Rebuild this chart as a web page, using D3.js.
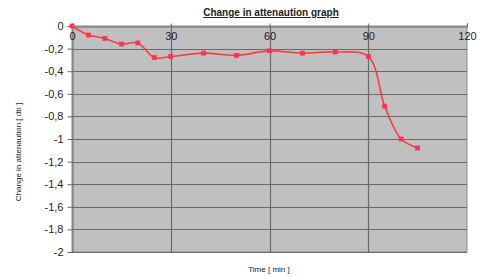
<!DOCTYPE html>
<html>
<head>
<meta charset="utf-8">
<script src="https://cdn.jsdelivr.net/npm/d3@7"></script>
<style>
  body { margin: 0; background: #fff; }
  svg { display: block; font-family: Arial, "Liberation Sans", sans-serif; }
</style>
</head>
<body>
<div id="chart"></div>
<script>
// data
var times  = [0, 5, 10, 15, 20, 25, 30, 40, 50, 60, 70, 80, 90, 95, 100, 105];
var values = [0, -0.08, -0.11, -0.16, -0.15, -0.28, -0.27, -0.24, -0.26, -0.22, -0.24, -0.23, -0.27, -0.71, -1.0, -1.08];
var xTicks = [0, 30, 60, 90, 120];
var yTicks = [0, -0.2, -0.4, -0.6, -0.8, -1, -1.2, -1.4, -1.6, -1.8, -2];

var W = 493, H = 276;
var pLeft = 72, pRight = 467, pTop = 26, pBottom = 252;

var svg = d3.select('#chart').append('svg').attr('width', W).attr('height', H);

var x = d3.scaleLinear().domain([0, 120]).range([pLeft, pRight]);
var y = d3.scaleLinear().domain([0, -2]).range([pTop, pBottom]);

// plot background
svg.append('rect')
    .attr('x', pLeft).attr('y', pTop)
    .attr('width', pRight - pLeft).attr('height', pBottom - pTop)
    .attr('fill', '#c0c0c0').attr('stroke', '#8a8a8a').attr('stroke-width', 1);

// horizontal grid
svg.append('g').selectAll('line').data(yTicks.slice(1, -1)).join('line')
    .attr('x1', pLeft).attr('x2', pRight)
    .attr('y1', function(d){ return Math.round(y(d)) + 0.5; })
    .attr('y2', function(d){ return Math.round(y(d)) + 0.5; })
    .attr('stroke', '#6a6a6a').attr('stroke-width', 1.2);

// vertical grid
svg.append('g').selectAll('line').data(xTicks.slice(1, -1)).join('line')
    .attr('x1', function(d){ return Math.round(x(d)) + 0.5; })
    .attr('x2', function(d){ return Math.round(x(d)) + 0.5; })
    .attr('y1', pTop).attr('y2', pBottom)
    .attr('stroke', '#6a6a6a').attr('stroke-width', 1.2);

// bottom line
svg.append('line').attr('x1', pLeft).attr('x2', pRight)
    .attr('y1', pBottom + 0.5).attr('y2', pBottom + 0.5)
    .attr('stroke', '#6a6a6a').attr('stroke-width', 1.2);

// y axis
var yAxis = d3.axisLeft(y).tickValues(yTicks).tickSize(5).tickPadding(4)
    .tickFormat(function(d){ return d3.format('~g')(d).replace('.', ',').replace('−', '-'); });
var ya = svg.append('g').attr('transform', 'translate(' + (pLeft + 0.5) + ',0)').call(yAxis);
ya.select('.domain').attr('stroke', '#6a6a6a');
ya.selectAll('.tick line').attr('stroke', '#6a6a6a');
ya.selectAll('text').attr('font-size', 11).attr('fill', '#222').attr('font-family', 'Arial, "Liberation Sans", sans-serif');

// x axis along the zero line, labels inside the plot
var xAxis = d3.axisTop(x).tickValues(xTicks).tickSize(3).tickPadding(-16).tickFormat(d3.format('d'));
var xa = svg.append('g').attr('transform', 'translate(0,' + (pTop + 0.5) + ')').call(xAxis);
xa.select('.domain').attr('stroke', '#6a6a6a');
xa.selectAll('.tick line').attr('stroke', '#6a6a6a');
xa.selectAll('text').attr('font-size', 11).attr('fill', '#222').attr('font-family', 'Arial, "Liberation Sans", sans-serif');

// smoothed line
var pts = times.map(function(t, i){ return [t, values[i]]; });
var line = d3.line()
    .x(function(d){ return x(d[0]); })
    .y(function(d){ return y(d[1]); })
    .curve(d3.curveCatmullRom.alpha(0.5));

svg.append('path').datum(pts)
    .attr('d', line)
    .attr('fill', 'none').attr('stroke', '#ff3a3a').attr('stroke-width', 1.6);

svg.append('g').selectAll('rect').data(pts).join('rect')
    .attr('x', function(d){ return x(d[0]) - 2; })
    .attr('y', function(d){ return y(d[1]) - 2; })
    .attr('width', 4).attr('height', 4)
    .attr('fill', '#ff2a7a').attr('stroke', '#ff3a3a').attr('stroke-width', 0.8);

// title
svg.append('text').attr('x', 271).attr('y', 16).attr('text-anchor', 'middle')
    .attr('font-size', 10).attr('font-weight', 'bold').attr('fill', '#222')
    .attr('text-decoration', 'underline')
    .text('Change in attenaution graph');

// axis titles
svg.append('text').attr('x', 269).attr('y', 272).attr('text-anchor', 'middle')
    .attr('font-size', 8).attr('fill', '#222')
    .text('Time [ min ]');

svg.append('text').attr('transform', 'translate(21,152) rotate(-90)').attr('text-anchor', 'middle')
    .attr('font-size', 8).attr('fill', '#222')
    .text('Change in attenaution [ db ]');
</script>
</body>
</html>
